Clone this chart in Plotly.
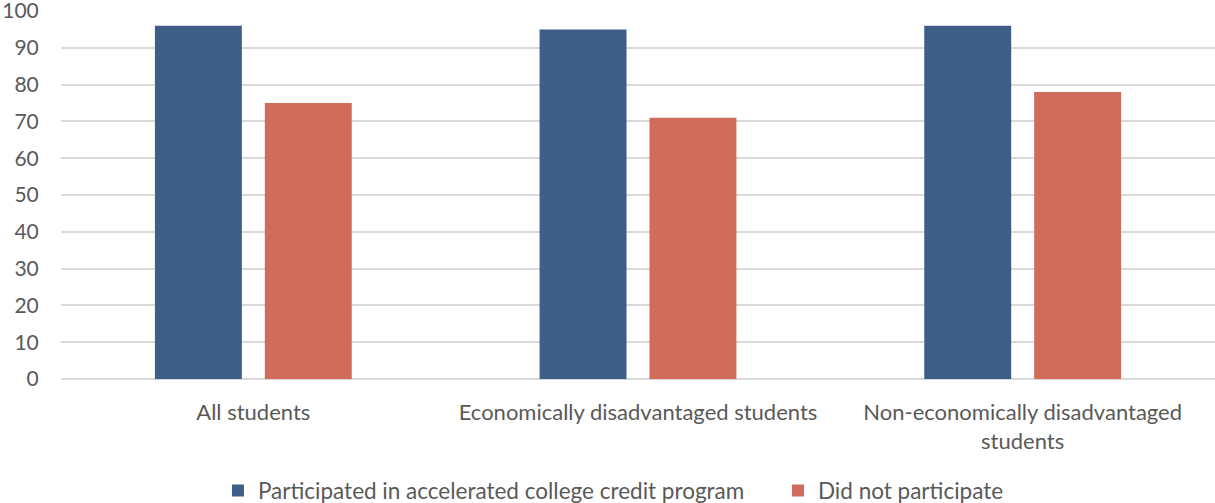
import plotly.graph_objects as go

# Student groups along the x axis
categories = [
    "All students",
    "Economically disadvantaged students",
    "Non-economically disadvantaged<br>students",
]

# Percentages for each series
participated = [96, 95, 96]
did_not_participate = [75, 71, 78]

series_names = [
    "Participated in accelerated college credit program",
    "Did not participate",
]

y_ticks = list(range(0, 101, 10))

BLUE = "#3F5E87"
RED = "#D16C5D"
TEXT = "#595959"
GRID = "#D9D9D9"
FONT = "Lato, 'Open Sans', sans-serif"

fig = go.Figure()
fig.add_trace(go.Bar(x=categories, y=participated, name=series_names[0],
                     marker=dict(color=BLUE, line=dict(width=0)),
                     legend="legend"))
fig.add_trace(go.Bar(x=categories, y=did_not_participate, name=series_names[1],
                     marker=dict(color=RED, line=dict(width=0)),
                     legend="legend2"))

legend_common = dict(
    orientation="h",
    xanchor="left",
    yref="container",
    y=0.024,
    yanchor="middle",
    font=dict(family=FONT, size=22.5, color=TEXT),
    itemclick=False,
    bgcolor="rgba(0,0,0,0)",
)

fig.update_layout(
    width=1215,
    height=503,
    margin=dict(l=61, r=0, t=11, b=124),
    paper_bgcolor="white",
    plot_bgcolor="white",
    barmode="group",
    bargap=0.4286,
    bargroupgap=0.209,
    font=dict(family=FONT, size=22, color=TEXT),
    showlegend=True,
    legend=dict(x=0.136, **legend_common),
    legend2=dict(x=0.6213, **legend_common),
)

fig.update_xaxes(
    showline=False,
    showgrid=False,
    ticks="outside",
    ticklen=14,
    tickcolor="rgba(0,0,0,0)",
    tickfont=dict(family=FONT, size=22, color=TEXT),
)

fig.update_yaxes(
    range=[0, 100],
    tickvals=y_ticks,
    showgrid=True,
    gridcolor=GRID,
    gridwidth=1.5,
    zeroline=True,
    zerolinecolor=GRID,
    zerolinewidth=1.5,
    showline=False,
    ticks="outside",
    ticklen=17,
    tickcolor="rgba(0,0,0,0)",
    ticklabeloverflow="allow",
    automargin=False,
    tickfont=dict(family=FONT, size=21, color=TEXT),
)

fig.write_html("out.html")
